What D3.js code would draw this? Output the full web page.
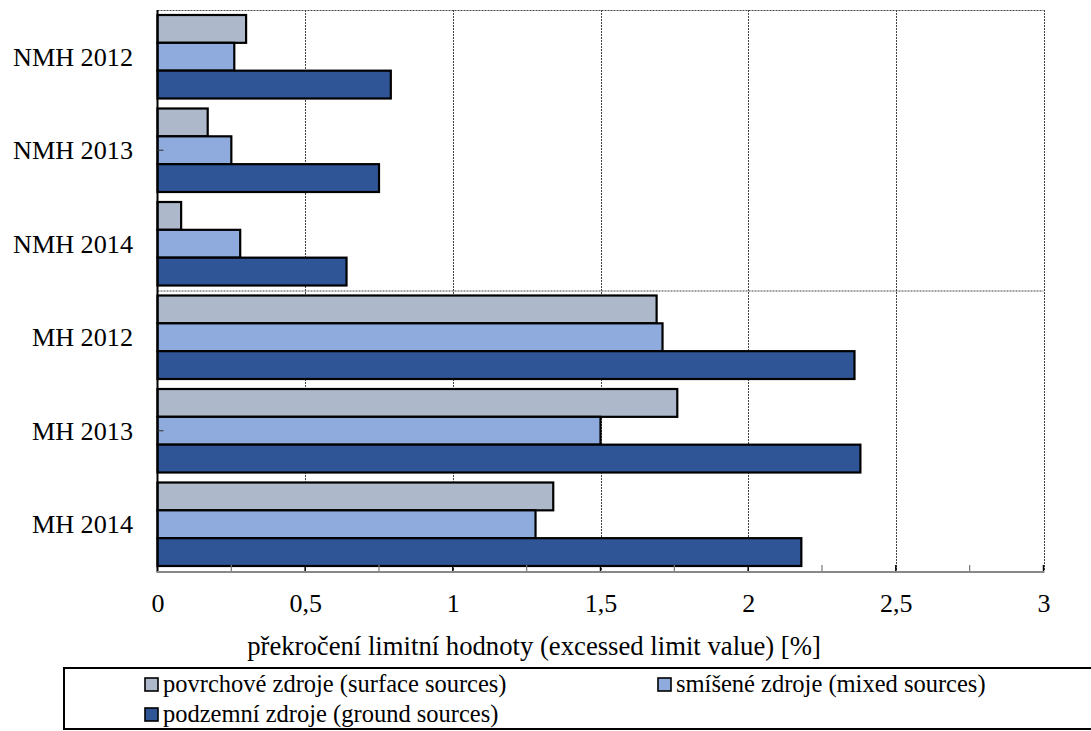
<!DOCTYPE html>
<html>
<head>
<meta charset="utf-8">
<script src="https://cdn.jsdelivr.net/npm/d3@7"></script>
<style>
  html, body { margin: 0; padding: 0; background: #fff; }
  svg text { font-family: "Liberation Serif", "Times New Roman", serif; }
</style>
</head>
<body>
<svg id="chart" width="1091" height="731"></svg>
<script>
// Categories (top to bottom) and series values, in percent
const categories = ["NMH 2012", "NMH 2013", "NMH 2014", "MH 2012", "MH 2013", "MH 2014"];
const seriesNames = [
  "povrchové zdroje (surface sources)",
  "smíšené zdroje (mixed sources)",
  "podzemní zdroje (ground sources)"
];
const surfaceValues = [0.30, 0.17, 0.08, 1.69, 1.76, 1.34];
const mixedValues   = [0.26, 0.25, 0.28, 1.71, 1.50, 1.28];
const groundValues  = [0.79, 0.75, 0.64, 2.36, 2.38, 2.18];
const xTickValues = [0, 0.5, 1, 1.5, 2, 2.5, 3];
const xTickLabels = ["0", "0,5", "1", "1,5", "2", "2,5", "3"];
const xMinorTicks = [0.25, 0.75, 1.25, 1.75, 2.25, 2.75];
const axisTitle = "překročení limitní hodnoty (excessed limit value) [%]";

const seriesValues = [surfaceValues, mixedValues, groundValues];
const colors = ["#ADB9CA", "#8FAADC", "#2F5597"];
const FONT = "'Liberation Serif', 'Times New Roman', serif";

const svg = d3.select("#chart");
const plot = { left: 157.5, right: 1043.5, top: 10, bottom: 571 };

const x = d3.scaleLinear().domain([0, 3]).range([plot.left, plot.right]);
const y = d3.scaleBand().domain(categories).range([plot.top, plot.bottom])
  .paddingInner(0.107).paddingOuter(0.0535);
const ySub = d3.scaleBand().domain(d3.range(seriesNames.length)).range([0, y.bandwidth()]);
const step = y.step();

// Gridlines: vertical at each major tick, horizontal at category-block boundaries
const grid = svg.append("g").attr("stroke", "#444").attr("stroke-width", 1)
  .attr("stroke-dasharray", "2,1");
grid.selectAll("line.v").data(xTickValues.filter(d => d > 0)).join("line")
  .attr("class", "v")
  .attr("x1", d => Math.round(x(d)) + 0.5).attr("x2", d => Math.round(x(d)) + 0.5)
  .attr("y1", plot.top).attr("y2", plot.bottom);
grid.selectAll("line.h").data([0, 3]).join("line")
  .attr("class", "h")
  .attr("x1", plot.left).attr("x2", plot.right)
  .attr("y1", d => plot.top + d * step + 0.5).attr("y2", d => plot.top + d * step + 0.5);

// Bars
const rows = categories.map((c, i) => ({ cat: c, vals: seriesValues.map(s => s[i]) }));
const groups = svg.append("g").selectAll("g").data(rows).join("g")
  .attr("transform", d => `translate(0,${y(d.cat)})`);
groups.selectAll("rect").data(d => d.vals.map((v, k) => ({ v, k }))).join("rect")
  .attr("x", x(0))
  .attr("y", d => ySub(d.k))
  .attr("width", d => x(d.v) - x(0))
  .attr("height", ySub.bandwidth())
  .attr("fill", d => colors[d.k])
  .attr("stroke", "#000")
  .attr("stroke-width", 2.2);

// Left axis line with ticks at the middle of each block of three
svg.append("line").attr("x1", plot.left).attr("x2", plot.left)
  .attr("y1", plot.top).attr("y2", plot.bottom + 1)
  .attr("stroke", "#000").attr("stroke-width", 2);
svg.selectAll("line.ytick").data([categories[1], categories[4]]).join("line")
  .attr("class", "ytick")
  .attr("x1", plot.left).attr("x2", plot.left + 6)
  .attr("y1", d => y(d) + y.bandwidth() / 2).attr("y2", d => y(d) + y.bandwidth() / 2)
  .attr("stroke", "#333").attr("stroke-width", 1);

// Category labels
svg.append("g").selectAll("text").data(categories).join("text")
  .attr("x", 133)
  .attr("y", d => y(d) + y.bandwidth() / 2 + 9)
  .attr("text-anchor", "end")
  .attr("font-family", FONT)
  .attr("font-size", 26.2)
  .attr("fill", "#000")
  .text(d => d);

// Bottom axis: grey line, inward ticks (major black, minor grey)
svg.append("line").attr("x1", plot.left - 1).attr("x2", plot.right + 1)
  .attr("y1", plot.bottom + 1).attr("y2", plot.bottom + 1)
  .attr("stroke", "#888").attr("stroke-width", 2);
svg.selectAll("line.minor").data(xMinorTicks).join("line")
  .attr("class", "minor")
  .attr("x1", d => x(d)).attr("x2", d => x(d))
  .attr("y1", plot.bottom).attr("y2", plot.bottom - 6)
  .attr("stroke", "#777").attr("stroke-width", 1.2);
svg.selectAll("line.major").data(xTickValues.filter(d => d > 0)).join("line")
  .attr("class", "major")
  .attr("x1", d => x(d)).attr("x2", d => x(d))
  .attr("y1", plot.bottom).attr("y2", plot.bottom - 6)
  .attr("stroke", "#000").attr("stroke-width", 1.5);

const xAxis = d3.axisBottom(x).tickValues(xTickValues)
  .tickFormat((d, i) => xTickLabels[i]).tickSize(0).tickPadding(22.5);
const xg = svg.append("g").attr("transform", `translate(0,${plot.bottom})`).call(xAxis);
xg.select(".domain").remove();
xg.attr("font-family", FONT).attr("font-size", 26);
xg.selectAll("text").attr("font-family", FONT).attr("font-size", 26).attr("fill", "#000");

// Axis title
svg.append("text").attr("x", 534).attr("y", 655)
  .attr("text-anchor", "middle")
  .attr("font-family", FONT).attr("font-size", 26.7).attr("fill", "#000")
  .text(axisTitle);

// Legend
const legend = svg.append("g");
legend.append("rect").attr("x", 64).attr("y", 668).attr("width", 1040).attr("height", 61)
  .attr("fill", "none").attr("stroke", "#000").attr("stroke-width", 2);
const legendPos = [
  { x: 145, y: 678 },
  { x: 658, y: 678 },
  { x: 145, y: 708 }
];
const items = legend.selectAll("g.item").data(seriesNames).join("g")
  .attr("class", "item")
  .attr("transform", (d, i) => `translate(${legendPos[i].x},${legendPos[i].y})`);
items.append("rect").attr("width", 13).attr("height", 13)
  .attr("fill", (d, i) => colors[i]).attr("stroke", "#000").attr("stroke-width", 1.6);
items.append("text").attr("x", 18).attr("y", 13.5)
  .attr("font-family", FONT)
  .attr("font-size", 24.5).attr("fill", "#000").text(d => d);
</script>
</body>
</html>
